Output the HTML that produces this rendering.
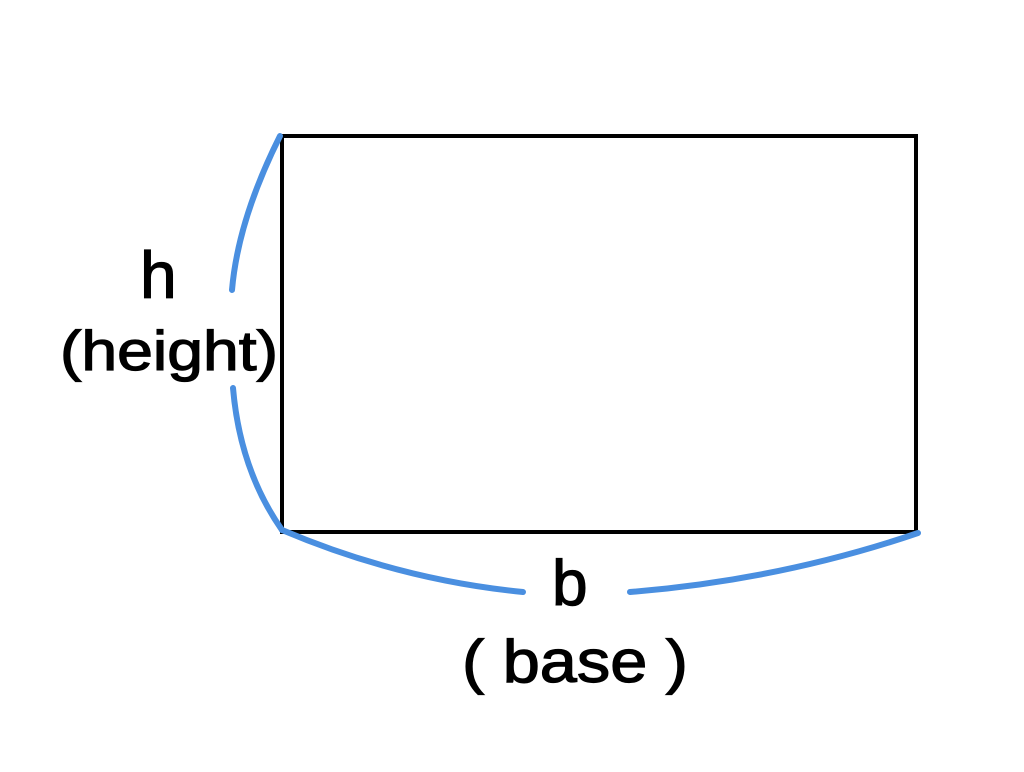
<!DOCTYPE html>
<html><head><style>html,body{margin:0;padding:0;background:#fff;}</style></head>
<body>
<svg width="1024" height="767" viewBox="0 0 1024 767" xmlns="http://www.w3.org/2000/svg">
<rect x="282" y="136" width="634" height="396" fill="none" stroke="#000" stroke-width="4"/>
<path d="M280 136 Q238 220 232 290" fill="none" stroke="#4a8fe0" stroke-width="6" stroke-linecap="round"/>
<path d="M233 388 Q240 470 282 530" fill="none" stroke="#4a8fe0" stroke-width="6" stroke-linecap="round"/>
<path d="M282 530 Q400 580 523 592" fill="none" stroke="#4a8fe0" stroke-width="6" stroke-linecap="round"/>
<path d="M630 592 Q780 580 918 533" fill="none" stroke="#4a8fe0" stroke-width="6" stroke-linecap="round"/>
<g font-family="Liberation Sans, sans-serif" fill="#000" stroke="#000" stroke-width="1.2">
<text x="140" y="298" font-size="66">h</text>
<text x="60" y="370" font-size="56" textLength="218" lengthAdjust="spacingAndGlyphs">(height)</text>
<text x="552" y="605" font-size="64">b</text>
<text x="462" y="682" font-size="60" textLength="226" lengthAdjust="spacingAndGlyphs">( base )</text>
</g>
</svg>
</body></html>
